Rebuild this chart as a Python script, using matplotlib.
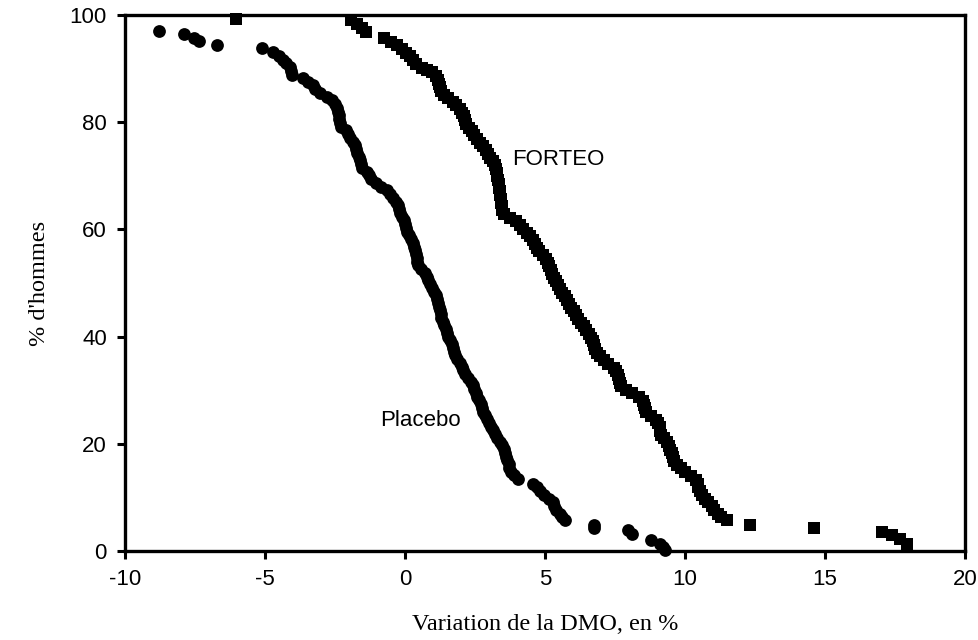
import matplotlib.pyplot as plt

# Placebo: variation de la DMO (%) et % d'hommes
placebo_x = [-8.80, -7.88, -7.55, -7.35, -6.73, -5.10, -4.70, -4.50, -4.35, -4.25,
             -4.12, -4.08, -4.05, -3.65, -3.45, -3.30, -3.22, -3.05, -2.80, -2.62,
             -2.50, -2.42, -2.38, -2.35, -2.35, -2.33, -2.30, -2.12, -2.02, -1.95,
             -1.85, -1.80, -1.75, -1.70, -1.66, -1.62, -1.58, -1.52, -1.35, -1.28,
             -1.22, -1.05, -0.85, -0.65, -0.52, -0.42, -0.32, -0.26, -0.22, -0.18,
             -0.12, -0.05, 0.00, 0.03, 0.08, 0.15, 0.22, 0.28, 0.32, 0.35,
             0.40, 0.42, 0.44, 0.47, 0.58, 0.70, 0.78, 0.82, 0.90, 0.98,
             1.05, 1.10, 1.15, 1.18, 1.21, 1.24, 1.27, 1.30, 1.35, 1.40,
             1.45, 1.50, 1.55, 1.62, 1.68, 1.72, 1.75, 1.78, 1.85, 1.95,
             2.02, 2.08, 2.15, 2.25, 2.35, 2.42, 2.48, 2.53, 2.58, 2.65,
             2.70, 2.75, 2.78, 2.85, 2.92, 3.00, 3.08, 3.15, 3.22, 3.30,
             3.40, 3.48, 3.53, 3.58, 3.62, 3.65, 3.70, 3.72, 3.78, 3.90,
             4.05, 4.58, 4.70, 4.82, 4.95, 5.15, 5.28, 5.32, 5.38, 5.52,
             5.62, 5.72, 6.74, 6.74, 7.95, 8.10, 8.80, 9.10, 9.20, 9.28]
placebo_y = [97.0, 96.4, 95.8, 95.1, 94.4, 93.8, 93.1, 92.4, 91.7, 91.0,
             90.3, 89.6, 88.9, 88.3, 87.6, 86.9, 86.2, 85.5, 84.8, 84.1,
             83.4, 82.7, 82.0, 81.3, 80.6, 79.9, 79.2, 78.5, 77.8, 77.1,
             76.4, 75.7, 75.0, 74.3, 73.6, 72.9, 72.2, 71.5, 70.8, 70.1,
             69.4, 68.7, 68.0, 67.3, 66.6, 65.9, 65.2, 64.5, 63.8, 63.1,
             62.4, 61.7, 61.0, 60.3, 59.6, 58.9, 58.2, 57.5, 56.8, 56.1,
             55.4, 54.7, 54.0, 53.3, 52.6, 51.9, 51.2, 50.5, 49.8, 49.1,
             48.4, 47.7, 47.0, 46.3, 45.6, 44.9, 44.2, 43.5, 42.8, 42.1,
             41.4, 40.7, 40.0, 39.3, 38.6, 37.9, 37.2, 36.5, 35.8, 35.1,
             34.4, 33.7, 33.0, 32.3, 31.6, 30.9, 30.2, 29.5, 28.8, 28.1,
             27.4, 26.7, 26.0, 25.3, 24.6, 23.9, 23.2, 22.5, 21.8, 21.1,
             20.4, 19.7, 19.0, 18.3, 17.6, 16.9, 16.2, 15.5, 14.8, 14.1,
             13.4, 12.6, 11.9, 11.2, 10.5, 9.8, 9.1, 8.4, 7.7, 7.0,
             6.3, 5.7, 4.9, 4.3, 3.9, 3.2, 2.1, 1.4, 0.8, 0.2]

# FORTEO
forteo_x = [-6.04, -1.94, -1.72, -1.55, -1.40, -0.75, -0.50, -0.30, -0.10, 0.05,
            0.18, 0.28, 0.40, 0.60, 0.80, 0.98, 1.10, 1.18, 1.22, 1.26,
            1.30, 1.40, 1.55, 1.70, 1.82, 1.95, 2.05, 2.10, 2.14, 2.18,
            2.28, 2.38, 2.48, 2.58, 2.68, 2.78, 2.88, 2.96, 3.05, 3.15,
            3.22, 3.26, 3.28, 3.30, 3.32, 3.34, 3.36, 3.38, 3.40, 3.42,
            3.44, 3.46, 3.48, 3.55, 3.75, 3.95, 4.10, 4.22, 4.35, 4.48,
            4.58, 4.65, 4.70, 4.78, 4.92, 5.05, 5.12, 5.15, 5.20, 5.25,
            5.32, 5.40, 5.48, 5.55, 5.62, 5.70, 5.78, 5.86, 5.94, 6.02,
            6.10, 6.18, 6.28, 6.38, 6.48, 6.58, 6.65, 6.70, 6.74, 6.78,
            6.85, 6.98, 7.10, 7.25, 7.45, 7.55, 7.62, 7.66, 7.69, 7.72,
            7.90, 8.10, 8.35, 8.50, 8.55, 8.58, 8.62, 8.80, 8.95, 9.05,
            9.10, 9.12, 9.15, 9.25, 9.35, 9.42, 9.48, 9.55, 9.58, 9.62,
            9.70, 9.85, 10.00, 10.20, 10.38, 10.45, 10.48, 10.52, 10.60, 10.72,
            10.82, 10.95, 11.05, 11.18, 11.30, 11.50, 12.33, 14.59, 17.03, 17.39,
            17.68, 17.92]
forteo_y = [99.3, 99.0, 98.3, 97.6, 96.8, 95.7, 95.0, 94.4, 93.7, 93.0,
            92.3, 91.6, 90.9, 90.2, 89.8, 89.3, 88.6, 87.9, 87.2, 86.5,
            85.8, 85.1, 84.5, 83.8, 83.2, 82.5, 81.8, 81.1, 80.4, 79.7,
            79.0, 78.3, 77.6, 76.9, 76.2, 75.5, 74.8, 74.1, 73.4, 72.7,
            72.0, 71.3, 70.6, 69.9, 69.2, 68.5, 67.8, 67.1, 66.4, 65.7,
            65.0, 64.3, 63.6, 62.9, 62.2, 61.5, 60.8, 60.1, 59.4, 58.7,
            58.0, 57.3, 56.6, 55.9, 55.2, 54.5, 53.8, 53.1, 52.4, 51.7,
            51.0, 50.3, 49.6, 48.9, 48.2, 47.5, 46.8, 46.1, 45.4, 44.7,
            44.0, 43.3, 42.6, 41.9, 41.2, 40.5, 39.8, 39.1, 38.4, 37.7,
            37.0, 36.3, 35.6, 34.9, 34.2, 33.5, 32.8, 32.1, 31.4, 30.7,
            30.0, 29.4, 28.7, 28.0, 27.3, 26.6, 25.9, 25.2, 24.5, 23.8,
            23.1, 22.4, 21.7, 21.0, 20.3, 19.6, 18.9, 18.2, 17.5, 16.8,
            16.1, 15.4, 14.7, 14.0, 13.3, 12.6, 11.9, 11.2, 10.5, 9.8,
            9.1, 8.4, 7.7, 7.0, 6.4, 5.7, 4.9, 4.3, 3.6, 2.9,
            2.2, 1.4]

x_ticks = [-10, -5, 0, 5, 10, 15, 20]
y_ticks = [0, 20, 40, 60, 80, 100]

plt.rcParams['font.family'] = ['Liberation Sans', 'DejaVu Sans']
plt.rcParams['axes.unicode_minus'] = False

fig = plt.figure(figsize=(9.79, 6.40), dpi=100)
ax = fig.add_axes([0.1277, 0.139, 0.858, 0.8375])

ax.plot(placebo_x, placebo_y, 'o', color='black', markersize=9.2, markeredgewidth=0, clip_on=False)
ax.plot(forteo_x, forteo_y, 's', color='black', markersize=9, markeredgewidth=0, clip_on=False)

ax.text(3.82, 73.1, 'FORTEO', fontsize=16, va='center', ha='left')
ax.text(-0.9, 24.4, 'Placebo', fontsize=16, va='center', ha='left')

ax.set_xlim(-10, 20)
ax.set_ylim(0, 100)
ax.set_xticks(x_ticks)
ax.set_yticks(y_ticks)
ax.tick_params(direction='out', length=6, width=2.2, labelsize=16, pad=7)

for s in ax.spines.values():
    s.set_linewidth(2.4)

ax.set_xlabel('Variation de la DMO, en %', family='Liberation Serif', fontsize=17.5, labelpad=17)
ax.set_ylabel("% d'hommes", family='Liberation Serif', fontsize=17.5, labelpad=14)

fig.savefig('out.png', dpi=100)
